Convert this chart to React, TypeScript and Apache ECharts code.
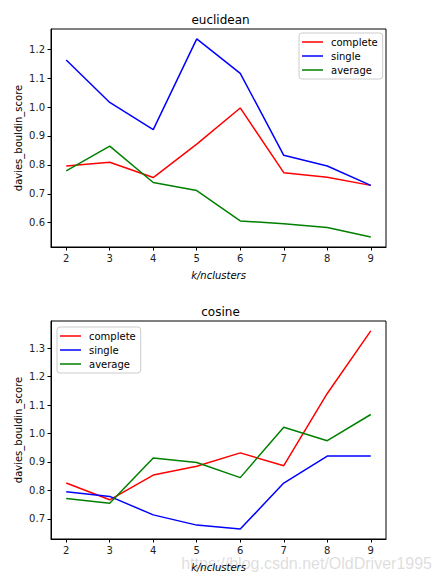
import React, { useEffect, useRef } from "react";
import * as echarts from "echarts";

const kValues = [2, 3, 4, 5, 6, 7, 8, 9];
const seriesNames = ["complete", "single", "average"];
const seriesColors = ["#ff0000", "#0000ff", "#008000"];

const euclideanComplete = [0.796, 0.809, 0.756, 0.872, 0.997, 0.773, 0.757, 0.729];
const euclideanSingle = [1.163, 1.016, 0.922, 1.236, 1.117, 0.833, 0.796, 0.729];
const euclideanAverage = [0.779, 0.865, 0.739, 0.711, 0.606, 0.596, 0.583, 0.55];

const cosineComplete = [0.826, 0.767, 0.854, 0.885, 0.932, 0.887, 1.141, 1.361];
const cosineSingle = [0.795, 0.779, 0.714, 0.678, 0.664, 0.826, 0.921, 0.921];
const cosineAverage = [0.772, 0.755, 0.914, 0.898, 0.845, 1.022, 0.975, 1.067];

const euclideanYTicks = [0.6, 0.7, 0.8, 0.9, 1.0, 1.1, 1.2];
const cosineYTicks = [0.7, 0.8, 0.9, 1.0, 1.1, 1.2, 1.3];

const titles = ["euclidean", "cosine"];
const xName = "k/nclusters";
const yName = "davies_bouldin_score";
const watermark = "https://blog.csdn.net/OldDriver1995";

const FONT = "DejaVu Sans";

function pad(arr: number[]) {
  const mn = Math.min(...arr);
  const mx = Math.max(...arr);
  const m = (mx - mn) * 0.05;
  return [mn - m, mx + m];
}

export default function App() {
  const ref = useRef<HTMLDivElement>(null);
  useEffect(() => {
    document.body.style.margin = "0";
    const chart = echarts.init(ref.current!, undefined, { renderer: "svg" });
    const groups = [
      [euclideanComplete, euclideanSingle, euclideanAverage],
      [cosineComplete, cosineSingle, cosineAverage],
    ];
    const yTicks = [euclideanYTicks, cosineYTicks];
    const tops = [29, 321];
    const gridH = 218;
    const xExt = [kValues[0] - 0.35, kValues[kValues.length - 1] + 0.35];

    const grid = tops.map((t) => ({
      left: 51,
      top: t,
      width: 335,
      height: gridH,
      show: true,
      borderColor: "#000",
      borderWidth: 1,
      backgroundColor: "transparent",
      containLabel: false,
    }));

    const xAxis = tops.map((_, i) => ({
      type: "value",
      gridIndex: i,
      min: xExt[0],
      max: xExt[1],
      name: xName,
      nameLocation: "middle",
      nameGap: 23,
      nameMoveOverlap: false,
      nameTextStyle: { fontFamily: FONT, fontSize: 10, fontStyle: "italic", color: "#000" },
      axisLine: { show: true, lineStyle: { color: "#000", width: 1 } },
      axisTick: { show: true, length: 3.5, lineStyle: { color: "#000" }, customValues: kValues },
      axisLabel: {
        show: true,
        fontFamily: FONT,
        fontSize: 10,
        color: "#222",
        margin: 6,
        customValues: kValues,
        formatter: (v: number) => String(v),
      },
      splitLine: { show: false },
    }));

    const yAxis = tops.map((_, i) => {
      const all = groups[i].flat();
      const [mn, mx] = pad(all);
      return {
        type: "value",
        gridIndex: i,
        min: mn,
        max: mx,
        name: yName,
        nameLocation: "middle",
        nameGap: 28,
        nameMoveOverlap: false,
        nameTextStyle: { fontFamily: FONT, fontSize: 10, color: "#000" },
        axisLine: { show: true, lineStyle: { color: "#000", width: 1 } },
        axisTick: { show: true, length: 3.5, lineStyle: { color: "#000" }, customValues: yTicks[i] },
        axisLabel: {
          show: true,
          fontFamily: FONT,
          fontSize: 10,
          color: "#222",
          margin: 6,
          customValues: yTicks[i],
          formatter: (v: number) => v.toFixed(1),
        },
        splitLine: { show: false },
      };
    });

    const series: any[] = [];
    groups.forEach((g, gi) => {
      g.forEach((vals, si) => {
        series.push({
          type: "line",
          name: seriesNames[si],
          xAxisIndex: gi,
          yAxisIndex: gi,
          data: kValues.map((k, j) => [k, vals[j]]),
          symbol: "none",
          showSymbol: false,
          lineStyle: { color: seriesColors[si], width: 1.5 },
          itemStyle: { color: seriesColors[si] },
          color: seriesColors[si],
        });
      });
    });

    const legendCommon = {
      orient: "vertical",
      icon: "path://M0,0H21V1.5H0Z",
      symbolKeepAspect: true,
      itemWidth: 21,
      itemHeight: 11,
      itemGap: 4,
      padding: [4, 5, 4, 3],
      backgroundColor: "rgba(255,255,255,0.8)",
      borderColor: "#cccccc",
      borderWidth: 1,
      borderRadius: 3,
      textStyle: { fontFamily: FONT, fontSize: 10, color: "#000", padding: [0, 0, 0, 3] },
      data: seriesNames,
      selectedMode: false,
    };

    chart.setOption({
      animation: false,
      backgroundColor: "#fff",
      title: [
        { text: titles[0], left: "center", top: 14, padding: 0, textStyle: { fontFamily: FONT, fontSize: 12, fontWeight: "normal", color: "#000" } },
        { text: titles[1], left: "center", top: 306, padding: 0, textStyle: { fontFamily: FONT, fontSize: 12, fontWeight: "normal", color: "#000" } },
      ],
      grid,
      xAxis,
      yAxis,
      legend: [
        { ...legendCommon, left: 299, top: 33 },
        { ...legendCommon, left: 57, top: 327 },
      ],
      series,
      graphic: [
        {
          type: "text",
          x: 432,
          y: 563,
          z: -1,
          silent: true,
          style: {
            text: watermark,
            fontFamily: "Liberation Sans",
            fontSize: 16,
            fill: "rgba(200,200,200,0.6)",
            textAlign: "right",
            textVerticalAlign: "middle",
          },
        },
      ],
    });
    return () => chart.dispose();
  }, []);
  return <div ref={ref} style={{ width: 441, height: 582 }} />;
}
